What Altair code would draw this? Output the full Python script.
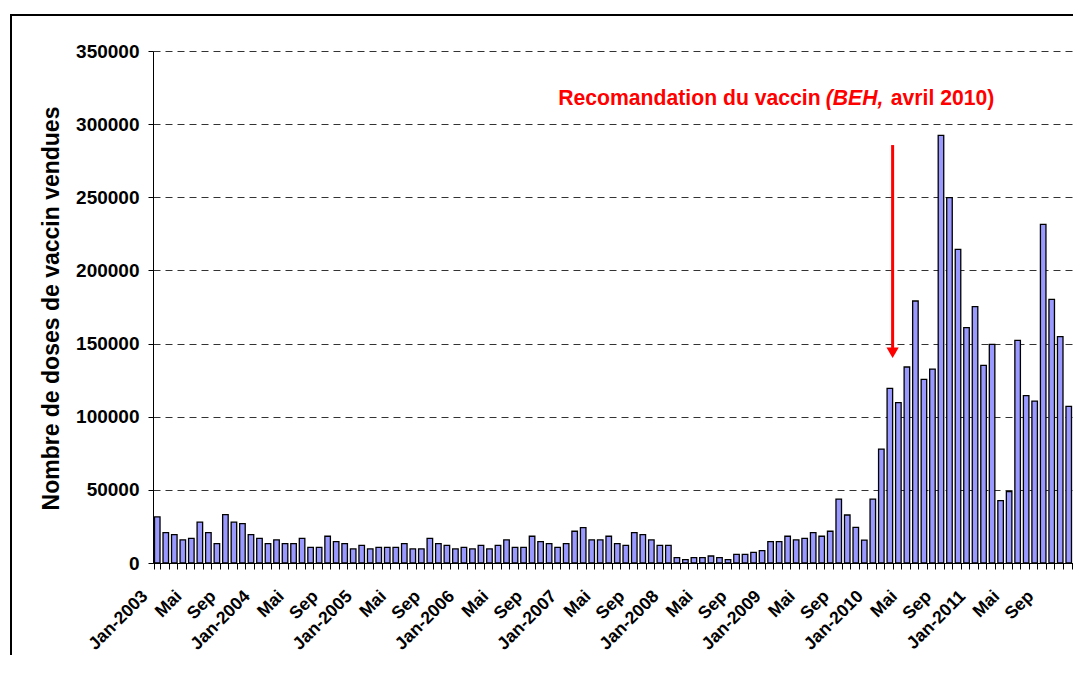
import altair as alt
import pandas as pd

# Monthly doses sold, Jan 2003 .. Dec 2011 (108 months)
doses = [
    31500, 20800, 19400, 15800, 16900, 27900, 20800, 13200, 33100, 27900, 26900, 19400,   # 2003
    16900, 13200, 15800, 13200, 13200, 16900, 10700, 10700, 18300, 14600, 13200, 9600,    # 2004
    12100, 9600, 10700, 10700, 10700, 13200, 9600, 9600, 16900, 13200, 12100, 9600,       # 2005
    10700, 9600, 12100, 9600, 12100, 15800, 10700, 10700, 18300, 14600, 13200, 10700,     # 2006
    13200, 21700, 24200, 15800, 15800, 18300, 13200, 12100, 20800, 19400, 15800, 12100,   # 2007
    12100, 3700, 2300, 3700, 3700, 4800, 3700, 2300, 5900, 5900, 7300, 8400,              # 2008
    14600, 14600, 18300, 15800, 16900, 20800, 18300, 21700, 43700, 32800, 24400, 15700,   # 2009
    43700, 77900, 119400, 109600, 134000, 179100, 125500, 132600, 292300, 249700, 214400, 160900,  # 2010
    175200, 135100, 149500, 42600, 48800, 152200, 114400, 110700, 231500, 180200, 154700, 107100,  # 2011
]
month_idx = list(range(len(doses)))

# one label every 4 months
tick_labels = [
    "Jan-2003", "Mai", "Sep", "Jan-2004", "Mai", "Sep", "Jan-2005", "Mai", "Sep",
    "Jan-2006", "Mai", "Sep", "Jan-2007", "Mai", "Sep", "Jan-2008", "Mai", "Sep",
    "Jan-2009", "Mai", "Sep", "Jan-2010", "Mai", "Sep", "Jan-2011", "Mai", "Sep",
]
y_ticks = [0, 50000, 100000, 150000, 200000, 250000, 300000, 350000]

# annotation
ann_idx = [78]
ann_y = [313000]
ann_parts = ["Recomandation du vaccin", "(BEH,", "avril 2010)"]
arrow_idx = [86]
arrow_top = [285700]
arrow_base = [147000]
arrow_head = [143700]

df = pd.DataFrame({"idx": month_idx, "doses": doses})
ann_df = pd.DataFrame({"idx": ann_idx, "y": ann_y})
arrow_df = pd.DataFrame({"idx": arrow_idx, "top": arrow_top, "base": arrow_base, "head": arrow_head})

FONT = "Liberation Sans"
label_js = "[" + ",".join("'" + t + "'" for t in tick_labels) + "]"

x_scale = alt.Scale(paddingInner=0.35, paddingOuter=0.175)
y_scale = alt.Scale(domain=[0, 350000], nice=False)

x_axis = alt.Axis(
    labelExpr=f"datum.value % 4 == 0 ? {label_js}[datum.value / 4] : ''",
    labelAngle=315, labelAlign="right", labelBaseline="top",
    labelFont=FONT, labelFontWeight="bold", labelFontSize=17.6, labelColor="black",
    labelOverlap=False, labelPadding=18, labelOffset=-19,
    tickBand="extent", tickSize=6, tickColor="black", tickWidth=1,
    domainColor="black", domainWidth=1, grid=False, title=None,
)
y_axis = alt.Axis(
    values=y_ticks, format="d",
    labelFont=FONT, labelFontWeight="bold", labelFontSize=19, labelColor="black",
    labelPadding=9, tickSize=5, tickColor="black", domainColor="black",
    grid=True, gridDash=[7, 5], gridColor="#333333", gridWidth=1,
    title="Nombre de doses de vaccin vendues",
    titleFont=FONT, titleFontWeight="bold", titleFontSize=23, titleColor="black",
    titleAngle=270, titleAlign="center", titleBaseline="middle",
    titleX=-102, titleY=257,
)

X = lambda **kw: alt.X("idx:O", scale=x_scale, axis=x_axis, **kw)
Y = lambda f: alt.Y(f"{f}:Q", scale=y_scale, axis=y_axis)

frame = alt.Chart(pd.DataFrame({"f": [0]})).mark_rect(
    fillOpacity=0, stroke="black", strokeWidth=2
).encode(x=alt.value(-142), x2=alt.value(960), y=alt.value(-36), y2=alt.value(660))

bars = alt.Chart(df).mark_bar(fill="#9999FF", stroke="black", strokeWidth=1.3).encode(
    x=X(), y=Y("doses"),
)

rule = alt.Chart(arrow_df).mark_rule(color="#FF0000", strokeWidth=3).encode(
    x=X(bandPosition=1), y=Y("top"), y2="base:Q",
)
head = alt.Chart(arrow_df).mark_point(
    shape="triangle-down", size=150, filled=True, color="#FF0000", opacity=1
).encode(x=X(bandPosition=1), y=Y("head"))

def ann_text(txt, align, dx, style):
    return alt.Chart(ann_df).mark_text(
        text=txt, align=align, baseline="alphabetic", dx=dx,
        font=FONT, fontWeight="bold", fontStyle=style, fontSize=21.2, color="#FF0000",
    ).encode(x=X(), y=Y("y"))

t1 = ann_text(ann_parts[0], "right", -1, "normal")
t2 = ann_text(ann_parts[1], "left", 4, "italic")
t3 = ann_text(ann_parts[2], "left", 69, "normal")

chart = alt.layer(bars, frame, rule, head, t1, t2, t3).properties(
    width=920, height=512,
    autosize=alt.AutoSizeParams(type="none"),
    padding={"left": 145, "top": 43, "right": 0, "bottom": 92},
    background="white",
).configure_view(stroke=None)

chart.save("out.html", embed_options={"renderer": "svg", "actions": False})
